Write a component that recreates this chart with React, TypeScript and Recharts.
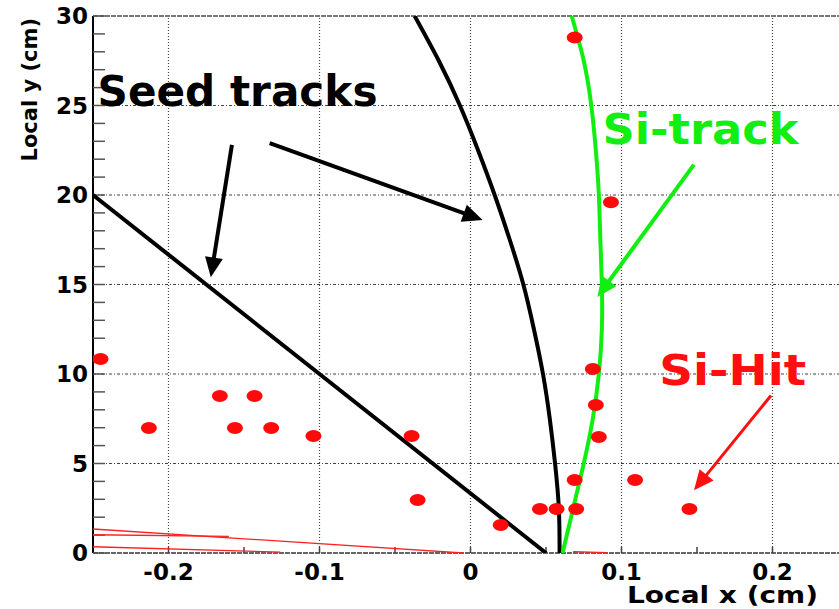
import React from 'react';
import { ComposedChart, XAxis, YAxis, Scatter, ReferenceLine, ReferenceDot } from 'recharts';

// Si hits (red dots)
const hitX = [-0.245, -0.213, -0.166, -0.143, -0.156, -0.132, -0.104, -0.039, -0.035, 0.020, 0.046, 0.057, 0.070, 0.069, 0.109, 0.085, 0.083, 0.081, 0.093, 0.069, 0.145];
const hitY = [10.84, 6.98, 8.77, 8.77, 6.98, 6.98, 6.54, 6.54, 2.96, 1.56, 2.46, 2.46, 2.46, 4.08, 4.08, 6.48, 8.27, 10.28, 19.6, 28.8, 2.46];

// Seed track 1 (straight)
const seedLineX = [-0.25, 0.05];
const seedLineY = [20.0, 0.0];

// Seed track 2 (curved)
const seedCurveY = [0, 2.5, 5, 7.5, 10, 12.5, 15, 17.5, 20, 22.5, 25, 27.5, 30];
const seedCurveX = [0.059, 0.0585, 0.056, 0.0525, 0.048, 0.042, 0.035, 0.026, 0.016, 0.005, -0.007, -0.021, -0.037];

// Si-track (green)
const siTrackY = [0, 2.5, 5, 7.5, 10, 12.5, 15, 17.5, 20, 22.5, 25, 27.5, 30];
const siTrackX = [0.061, 0.068, 0.075, 0.081, 0.085, 0.087, 0.087, 0.086, 0.085, 0.083, 0.080, 0.075, 0.067];

// thin red lines near the bottom
const noiseAX = [-0.25, -0.005];
const noiseAY = [1.34, 0.0];
const noiseBX = [-0.25, -0.16];
const noiseBY = [1.02, 0.93];
const noiseCX = [-0.25, -0.126];
const noiseCY = [0.35, 0.05];
const noiseDX = [0.068, 0.09];
const noiseDY = [0.08, 0.02];

// axis ticks
const xTicks = [-0.25, -0.2, -0.15, -0.1, -0.05, 0, 0.05, 0.1, 0.15, 0.2, 0.25];
const xLabelValues = [-0.2, -0.1, 0, 0.1, 0.2];
const xLabelTexts = ['-0.2', '-0.1', '0', '0.1', '0.2'];
const yTicks = [0, 1, 2, 3, 4, 5, 6, 7, 8, 9, 10, 11, 12, 13, 14, 15, 16, 17, 18, 19, 20, 21, 22, 23, 24, 25, 26, 27, 28, 29, 30];
const yLabelValues = [0, 5, 10, 15, 20, 25, 30];
const xGrid = [-0.2, -0.1, 0, 0.1, 0.2];
const yGrid = [5, 10, 15, 20, 25];

// annotations
const annTexts = ['Seed tracks', 'Si-track', 'Si-Hit'];
const annX = [-0.247, 0.0874, 0.125];
const annY = [25.0, 22.85, 9.39];
const arrowFromX = [-0.158, -0.133, 0.148, 0.199];
const arrowFromY = [22.8, 22.9, 21.7, 8.8];
const arrowToX = [-0.172, 0.008, 0.084, 0.148];
const arrowToY = [15.4, 18.6, 14.3, 3.5];

const toPts = (xs: number[], ys: number[]) => xs.map((x, i) => ({ x, y: ys[i] }));

const hits = toPts(hitX, hitY);
const seedLine = toPts(seedLineX, seedLineY);
const seedCurve = toPts(seedCurveX, seedCurveY);
const siTrack = toPts(siTrackX, siTrackY);
const noiseA = toPts(noiseAX, noiseAY);
const noiseB = toPts(noiseBX, noiseBY);
const noiseC = toPts(noiseCX, noiseCY);
const noiseD = toPts(noiseDX, noiseDY);

const FONT = '"DejaVu Sans", sans-serif';
const annColors = ['#000000', '#11ee11', '#ff0f0f'];
const annWidths = [280, 196, 147];
const arrowColors = ['#000000', '#000000', '#11ee11', '#ff1010'];
const arrowWidths = [4, 4, 4, 3];

const xFmt = (v: number) => {
  const i = xLabelValues.findIndex((t) => Math.abs(t - v) < 1e-9);
  return i >= 0 ? xLabelTexts[i] : '';
};
const yFmt = (v: number) => (yLabelValues.includes(v) ? String(v) : '');

const Ellipse = (props: any) => {
  const { cx, cy } = props;
  if (cx == null || cy == null) return null;
  return <ellipse cx={cx} cy={cy} rx={8} ry={6} fill="#ff0a0a" />;
};
const NoPoint = () => null;

const makeArrow = (color: string, w: number) => (props: any) => {
  const { x1, y1, x2, y2 } = props;
  if ([x1, y1, x2, y2].some((v) => v == null || isNaN(v))) return null;
  const dx = x2 - x1;
  const dy = y2 - y1;
  const len = Math.sqrt(dx * dx + dy * dy);
  const ux = dx / len;
  const uy = dy / len;
  const hl = 20;
  const hw = 9;
  const bx = x2 - ux * hl;
  const by = y2 - uy * hl;
  const px = -uy;
  const py = ux;
  return (
    <g>
      <line x1={x1} y1={y1} x2={bx + ux * 2} y2={by + uy * 2} stroke={color} strokeWidth={w} />
      <polygon
        points={`${x2},${y2} ${bx + px * hw},${by + py * hw} ${bx - px * hw},${by - py * hw}`}
        fill={color}
      />
    </g>
  );
};

const makeText = (text: string, color: string, width: number) => (props: any) => {
  const { cx, cy } = props;
  if (cx == null || cy == null) return null;
  return (
    <text
      x={cx}
      y={cy}
      fill={color}
      fontFamily={FONT}
      fontWeight="bold"
      fontSize={42}
      textLength={width}
      lengthAdjust="spacingAndGlyphs"
    >
      {text}
    </text>
  );
};

const YLabel = (props: any) => {
  const vb = props.viewBox || { x: 0, y: 16 };
  const x = vb.x + 37;
  const y = vb.y + 2;
  return (
    <text
      x={x}
      y={y}
      transform={`rotate(-90, ${x}, ${y})`}
      textAnchor="end"
      fontFamily={FONT}
      fontWeight="bold"
      fontSize={21}
      fill="#000"
    >
      Local y (cm)
    </text>
  );
};

const XLabel = (props: any) => {
  const vb = props.viewBox || { x: 93, y: 553 };
  const x = vb.x + 725;
  const y = vb.y + 50;
  return (
    <text
      x={x - 191}
      y={y}
      fontFamily={FONT}
      fontWeight="bold"
      fontSize={23}
      fill="#000"
      textLength={191}
      lengthAdjust="spacingAndGlyphs"
    >
      Local x (cm)
    </text>
  );
};

export default function App() {
  return (
    <div style={{ position: 'fixed', left: 0, top: 0, width: 839, height: 609, overflow: 'hidden', background: '#fff' }}>
      <ComposedChart width={858} height={609} margin={{ top: 16, right: 10, bottom: 0, left: 0 }}>
        <XAxis
          type="number"
          dataKey="x"
          domain={[-0.25, 0.25]}
          ticks={xTicks}
          interval={0}
          allowDataOverflow
          height={56}
          tickSize={-6}
          tickMargin={17}
          tickFormatter={xFmt}
          tick={{ fontFamily: FONT, fontWeight: 'bold', fontSize: 23, fill: '#000' }}
          tickLine={{ stroke: '#444', strokeWidth: 1.5 }}
          axisLine={{ stroke: '#666', strokeWidth: 2, strokeDasharray: '5 1' }}
          label={<XLabel />}
        />
        <YAxis
          type="number"
          dataKey="y"
          domain={[0, 30]}
          ticks={yTicks}
          interval={0}
          allowDataOverflow
          width={93}
          tickSize={-12}
          tickMargin={17}
          tickFormatter={yFmt}
          tick={{ fontFamily: FONT, fontWeight: 'bold', fontSize: 23, fill: '#000' }}
          tickLine={{ stroke: '#555', strokeWidth: 1.5 }}
          axisLine={{ stroke: '#000', strokeWidth: 2 }}
          label={<YLabel />}
        />
        {xGrid.map((v) => (
          <ReferenceLine key={'gx' + v} x={v} stroke="#444" strokeWidth={1.2} strokeDasharray="1 2" />
        ))}
        {yGrid.map((v) => (
          <ReferenceLine key={'gy' + v} y={v} stroke="#444" strokeWidth={1.2} strokeDasharray="3 2 1 2" />
        ))}
        <ReferenceLine y={30} stroke="#777" strokeWidth={2} strokeDasharray="5 1" />

        <Scatter data={noiseA} line={{ stroke: '#ff2020', strokeWidth: 1.3 }} shape={NoPoint} isAnimationActive={false} />
        <Scatter data={noiseB} line={{ stroke: '#ff2020', strokeWidth: 1.3 }} shape={NoPoint} isAnimationActive={false} />
        <Scatter data={noiseC} line={{ stroke: '#ff2020', strokeWidth: 1.3 }} shape={NoPoint} isAnimationActive={false} />
        <Scatter data={noiseD} line={{ stroke: '#ff2020', strokeWidth: 1.3 }} shape={NoPoint} isAnimationActive={false} />

        <Scatter data={seedLine} line={{ stroke: '#000', strokeWidth: 4 }} shape={NoPoint} isAnimationActive={false} />
        <Scatter data={seedCurve} line={{ stroke: '#000', strokeWidth: 4 }} lineJointType="natural" shape={NoPoint} isAnimationActive={false} />
        <Scatter data={siTrack} line={{ stroke: '#11ee11', strokeWidth: 4 }} lineJointType="natural" shape={NoPoint} isAnimationActive={false} />
        <Scatter data={hits} shape={Ellipse} isAnimationActive={false} />

        {arrowFromX.map((fx, i) => (
          <ReferenceLine
            key={'ar' + i}
            segment={[
              { x: fx, y: arrowFromY[i] },
              { x: arrowToX[i], y: arrowToY[i] },
            ]}
            ifOverflow="visible"
            shape={makeArrow(arrowColors[i], arrowWidths[i])}
          />
        ))}
        {annTexts.map((t, i) => (
          <ReferenceDot
            key={'tx' + i}
            x={annX[i]}
            y={annY[i]}
            r={0}
            ifOverflow="visible"
            shape={makeText(t, annColors[i], annWidths[i])}
          />
        ))}
      </ComposedChart>
    </div>
  );
}
